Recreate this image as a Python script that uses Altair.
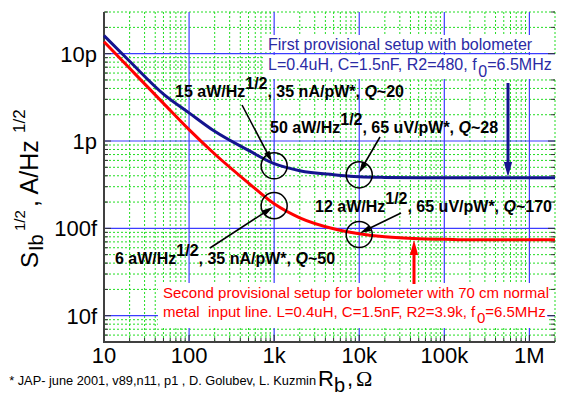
import math
import altair as alt
import pandas as pd

# ---------------- data ----------------
r_ohm = [10, 20, 50, 100, 200, 500, 1e3, 2e3, 5e3, 1e4, 2e4, 5e4, 1e5, 2e5, 5e5, 1e6, 2e6]
s_first = [1.61e-11, 8.2e-12, 3.45e-12, 2.1e-12, 1.29e-12, 7.8e-13, 5.5e-13, 4.57e-13,
           4.11e-13, 3.9e-13, 3.83e-13, 3.8e-13, 3.8e-13, 3.8e-13, 3.8e-13, 3.8e-13, 3.8e-13]
s_second = [1.37e-11, 6.8e-12, 2.7e-12, 1.35e-12, 7.1e-13, 3.3e-13, 1.91e-13, 1.32e-13,
            9.9e-14, 8.7e-14, 8.0e-14, 7.6e-14, 7.5e-14, 7.4e-14, 7.4e-14, 7.4e-14, 7.4e-14]
circle_r = [1e3, 1e4, 1e3, 1e4]
circle_s = [5.2e-13, 4.1e-13, 1.82e-13, 8.5e-14]

x_major = [10, 100, 1e3, 1e4, 1e5, 1e6]
x_major_labels = ["10", "100", "1k", "10k", "100k", "1M"]
y_major = [1e-14, 1e-13, 1e-12, 1e-11]
y_major_labels = ["10f", "100f", "1p", "10p"]
x_minor = [float(f"{m}e{e}") for e in range(1, 7) for m in range(2, 10) if float(f"{m}e{e}") <= 2e6]
y_minor = [float(f"{m}e{e}") for e in range(-15, -10) for m in range(2, 10)
           if 5e-15 <= float(f"{m}e{e}") <= 3e-11]

# ---------------- layout ----------------
W, H = 451, 330
OX, OY = 104, 12
FONT = "Liberation Sans"
BLUE = "#14148f"
RED = "#ff0000"
TXT_BLUE = "#2a2aa5"

xscale = alt.Scale(type="log", domain=[10, 2e6], nice=False)
yscale = alt.Scale(type="log", domain=[5e-15, 3e-11], nice=False)

REG = {' ': 278, '\u00a0': 278, ',': 278, '.': 278, '/': 278, '*': 389, '-': 333, '=': 584, '~': 584,
       'A': 667, 'C': 722, 'D': 722, 'F': 611, 'G': 778, 'H': 722, 'I': 278, 'J': 500, 'K': 667,
       'L': 556, 'M': 833, 'P': 667, 'Q': 778, 'R': 722, 'S': 667, 'V': 667, 'W': 944,
       'a': 556, 'b': 556, 'c': 500, 'd': 556, 'e': 556, 'f': 278, 'g': 556, 'h': 556, 'i': 222,
       'j': 222, 'k': 500, 'l': 222, 'm': 833, 'n': 556, 'o': 556, 'p': 556, 'r': 333, 's': 500,
       't': 278, 'u': 556, 'v': 500, 'w': 722, 'y': 500, 'z': 500}
BOLD = {' ': 278, ',': 278, '.': 278, '/': 278, '*': 389, '~': 584, 'A': 722, 'H': 722, 'Q': 778,
        'V': 667, 'W': 944, 'a': 556, 'n': 611, 'p': 611, 'u': 611, 'z': 500, 'k': 556}


def tw(s, size, bold=False):
    t = BOLD if bold else REG
    return sum(t.get(c, 556) for c in s) * size / 1000.0


one = pd.DataFrame({"a": [0]})


def txt(s, x, y, size, color="black", bold=False, italic=False, font=FONT, angle=None,
        align="left"):
    kw = dict(text=s, font=font, fontSize=size, color=color, align=align,
              baseline="alphabetic", fontWeight="bold" if bold else "normal",
              fontStyle="italic" if italic else "normal")
    if angle is not None:
        kw["angle"] = angle
    return alt.Chart(one).mark_text(**kw).encode(x=alt.value(x - OX), y=alt.value(y - OY))


def rich(x0, base, segs, size, color="black", bold=False):
    out = []
    x = x0
    for s, dy, italic in segs:
        out.append(txt(s, x, base + dy, size, color=color, bold=bold, italic=italic))
        x += tw(s, size, bold)
    return out


def box(x1, y1, x2, y2):
    return alt.Chart(one).mark_rect(color="white").encode(
        x=alt.value(x1 - OX), x2=alt.value(x2 - OX), y=alt.value(y1 - OY), y2=alt.value(y2 - OY))


HEAD = "M0,-1L0.55,1L-0.55,1Z"


def arrow(x1, y1, x2, y2, color, width, head):
    dx, dy = x2 - x1, y2 - y1
    L = math.hypot(dx, dy)
    ux, uy = dx / L, dy / L
    cx, cy = x2 - ux * head / 2, y2 - uy * head / 2
    ang = math.degrees(math.atan2(dx, -dy)) % 360
    line = alt.Chart(one).mark_rule(color=color, strokeWidth=width).encode(
        x=alt.value(x1 - OX), y=alt.value(y1 - OY), x2=alt.value(cx - OX), y2=alt.value(cy - OY))
    tip = alt.Chart(one).mark_point(shape=HEAD, size=head * head, angle=ang, filled=True,
                                    color=color, opacity=1, strokeWidth=0).encode(
        x=alt.value(cx - OX), y=alt.value(cy - OY))
    return [line, tip]


layers = []

# minor grid (green dotted)
layers.append(alt.Chart(pd.DataFrame({"v": x_minor})).mark_rule(
    color="#22dd22", strokeDash=[2, 2], strokeWidth=1).encode(
    x=alt.X("v:Q", scale=xscale, axis=None)))
layers.append(alt.Chart(pd.DataFrame({"v": y_minor})).mark_rule(
    color="#22dd22", strokeDash=[2, 2], strokeWidth=1).encode(
    y=alt.Y("v:Q", scale=yscale, axis=None)))
# major grid (blue)
layers.append(alt.Chart(pd.DataFrame({"v": x_major[1:]})).mark_rule(
    color="#3c3cff", strokeWidth=1.2).encode(x=alt.X("v:Q", scale=xscale, axis=None)))
layers.append(alt.Chart(pd.DataFrame({"v": y_major})).mark_rule(
    color="#3c3cff", strokeWidth=1.2).encode(y=alt.Y("v:Q", scale=yscale, axis=None)))

# inward ticks
TICK = "#303030"
for vals, ln in ((y_minor, 4), (y_major, 7)):
    d = pd.DataFrame({"v": vals})
    layers.append(alt.Chart(d).mark_rule(color=TICK, strokeWidth=1).encode(
        y=alt.Y("v:Q", scale=yscale, axis=None), x=alt.value(0), x2=alt.value(ln)))
    layers.append(alt.Chart(d).mark_rule(color=TICK, strokeWidth=1).encode(
        y=alt.Y("v:Q", scale=yscale, axis=None), x=alt.value(W - ln), x2=alt.value(W)))
for vals, ln in ((x_minor, 4), (x_major, 7)):
    d = pd.DataFrame({"v": vals})
    layers.append(alt.Chart(d).mark_rule(color=TICK, strokeWidth=1).encode(
        x=alt.X("v:Q", scale=xscale, axis=None), y=alt.value(H - ln), y2=alt.value(H)))

# axis lines
layers.append(alt.Chart(one).mark_rule(color="#404040", strokeWidth=2).encode(
    x=alt.value(0), x2=alt.value(0), y=alt.value(0), y2=alt.value(H + 1)))
layers.append(alt.Chart(one).mark_rule(color="#404040", strokeWidth=2).encode(
    x=alt.value(-1), x2=alt.value(W), y=alt.value(H), y2=alt.value(H)))

# tick labels
layers.append(alt.Chart(pd.DataFrame({"v": x_major, "t": x_major_labels})).mark_text(
    font=FONT, fontSize=22, color="black", align="center", baseline="alphabetic").encode(
    x=alt.X("v:Q", scale=xscale, axis=None), y=alt.value(H + 21), text="t:N"))
layers.append(alt.Chart(pd.DataFrame({"v": y_major, "t": y_major_labels})).mark_text(
    font=FONT, fontSize=22, color="black", align="right", baseline="alphabetic", dy=8).encode(
    y=alt.Y("v:Q", scale=yscale, axis=None), x=alt.value(-7), text="t:N"))

# white text backgrounds
layers.append(box(265, 35, 553, 52))
layers.append(box(265, 55, 556, 79))
layers.append(box(158, 283, 547, 328))

# curves
df_first = pd.DataFrame({"R": r_ohm, "S": s_first})
df_second = pd.DataFrame({"R": r_ohm, "S": s_second})
layers.append(alt.Chart(df_first).mark_line(color=BLUE, strokeWidth=3, interpolate="monotone").encode(
    x=alt.X("R:Q", scale=xscale, axis=None), y=alt.Y("S:Q", scale=yscale, axis=None)))
layers.append(alt.Chart(df_second).mark_line(color=RED, strokeWidth=3, interpolate="monotone").encode(
    x=alt.X("R:Q", scale=xscale, axis=None), y=alt.Y("S:Q", scale=yscale, axis=None)))

# circles
layers.append(alt.Chart(pd.DataFrame({"R": circle_r, "S": circle_s})).mark_point(
    shape="circle", size=680, filled=False, stroke="black", strokeWidth=1.5, opacity=1).encode(
    x=alt.X("R:Q", scale=xscale, axis=None), y=alt.Y("S:Q", scale=yscale, axis=None)))

# annotation arrows
layers += arrow(242, 105, 272, 162, "black", 1.6, 11)
layers += arrow(380, 137, 359, 173, "black", 1.6, 11)
layers += arrow(401, 213, 360, 233, "black", 1.6, 11)
layers += arrow(210, 248, 273, 207, "black", 1.6, 11)
layers += arrow(508, 83, 508, 177, BLUE, 3, 15)
layers += arrow(414, 284, 414, 240, RED, 3, 15)

# annotation texts
SUP = -8
layers += rich(175, 97, [("15 aW/Hz", 0, False), ("1/2", SUP, False), (", 35 nA/pW*, ", 0, False),
                         ("Q", 0, True), ("~20", 0, False)], 16, bold=True)
layers += rich(270, 133, [("50 aW/Hz", 0, False), ("1/2", SUP, False), (", 65 uV/pW*, ", 0, False),
                          ("Q", 0, True), ("~28", 0, False)], 16, bold=True)
layers += rich(315, 212, [("12 aW/Hz", 0, False), ("1/2", SUP, False), (", 65 uV/pW*, ", 0, False),
                          ("Q", 0, True), ("~170", 0, False)], 16, bold=True)
layers += rich(115, 264, [("6 aW/Hz", 0, False), ("1/2", SUP, False), (", 35 nA/pW*, ", 0, False),
                          ("Q", 0, True), ("~50", 0, False)], 16, bold=True)

# setup descriptions
layers.append(txt("First provisional setup with bolometer", 268, 50, 16, color=TXT_BLUE))
layers += rich(268, 70, [("L=0.4uH, C=1.5nF, R2=480, f", 0, False), ("0", 7, False),
                         ("=6.5MHz", 0, False)], 16, color=TXT_BLUE)
layers.append(txt("Second provisional setup for bolometer with 70 cm normal", 163, 298, 15, color=RED))
layers += rich(163, 317, [("metal\u00a0 input line. L=0.4uH, C=1.5nF, R2=3.9k, f", 0, False),
                          ("0", 6, False), ("=6.5MHz", 0, False)], 15, color=RED)

# y-axis title (rotated)
layers.append(txt("S", 38, 268, 24, angle=270))
layers.append(txt("Ib", 43, 251, 20, angle=270))
layers.append(txt("1/2", 25, 231, 15, angle=270))
layers.append(txt(", A/Hz", 38, 207, 25, angle=270))
layers.append(txt("1/2", 25, 133, 17, angle=270))

# x-axis title and footnote
layers.append(txt("R", 318, 386, 22))
layers.append(txt("b", 334, 392, 20))
layers.append(txt(",", 347, 386, 22))
layers.append(txt("\u03a9", 356, 386, 22, font="Liberation Serif"))
layers.append(txt("* JAP- june 2001, v89,n11, p1 , D. Golubev, L. Kuzmin", 316, 385, 12.8,
                  align="right"))

chart = alt.layer(*layers).properties(
    width=W, height=H,
    padding={"left": OX, "top": OY, "right": 561 - OX - W, "bottom": 401 - OY - H},
    autosize=alt.AutoSizeParams(type="none"),
    background="white",
).configure_view(stroke=None)

chart.save("out.html", embed_options={"renderer": "svg", "actions": False})
